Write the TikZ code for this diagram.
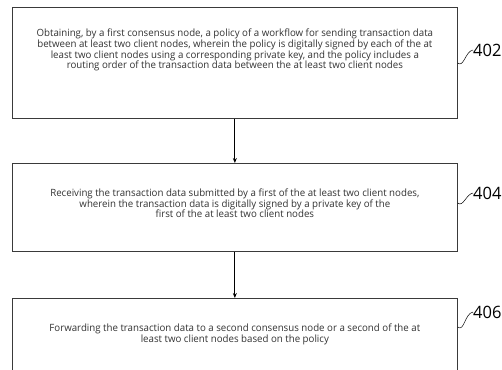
\documentclass[tikz,border=0pt]{standalone}
\usepackage{fontspec}
\setmainfont{Open Sans}[FakeStretch=0.97]
\usepackage{tikz}
\usepackage{xcolor}
\usetikzlibrary{arrows.meta, shadows}
\definecolor{fgdark}{HTML}{333333}
\definecolor{boxline}{HTML}{3A3A3A}
\tikzset{
  stepbox/.style={
    draw=boxline, line width=0.7pt, fill=white,
    drop shadow={shadow xshift=1.1pt, shadow yshift=-1.1pt, fill=black, opacity=1},
    minimum width=445pt, anchor=north west, inner sep=0pt,
    align=center, text=fgdark,
    font=\fontsize{10}{10.8}\selectfont,
  },
  reflabel/.style={font=\fontsize{17}{17}\selectfont, text=black, inner sep=0pt, anchor=west},
  leader/.style={line width=0.5pt, black},
  flow/.style={-{Stealth[length=5pt,width=4pt]}, line width=0.8pt, black},
}
% pushes the text block up inside its box
\newcommand{\lowpad}[1]{\rule[-#1]{0pt}{0pt}}

\begin{document}
\begin{tikzpicture}[x=1pt, y=-1pt]
\useasboundingbox[fill=white] (0,0) rectangle (502,369);

% ── steps ───────────────────────────────────────────────────────
\node[stepbox, minimum height=111pt] (s402) at (12,7)
  {Obtaining, by a first consensus node, a policy of a workflow for sending transaction data\\
   between at least two client nodes, wherein the policy is digitally signed by each of the at\\
   least two client nodes using a corresponding private key, and the policy includes a\\
   routing order of the transaction data between the at least two client nodes\lowpad{28pt}};
\node[stepbox, minimum height=88pt] (s404) at (12,163)
  {Receiving the transaction data submitted by a first of the at least two client nodes,\\
   wherein the transaction data is digitally signed by a private key of the\\
   first of the at least two client nodes\lowpad{8pt}};
\node[stepbox, minimum height=90pt] (s406) at (12,298)
  {Forwarding the transaction data to a second consensus node or a second of the at\\
   least two client nodes based on the policy\lowpad{20pt}};

% ── reference numerals ──────────────────────────────────────────
\node[reflabel] (l402) at (473,50) {402};
\node[reflabel] (l404) at (473,193) {404};
\node[reflabel] (l406) at (473,312) {406};

\draw[leader] ([yshift=-56pt]s402.north east) to[out=-40, in=190] (l402.west);
\draw[leader] ([yshift=-40pt]s404.north east) to[out=-40, in=190] (l404.west);
\draw[leader] ([yshift=-29pt]s406.north east) to[out=-40, in=190] (l406.west);

% ── flow ────────────────────────────────────────────────────────
\draw[flow] (s402.south) -- (s404.north);
\draw[flow] (s404.south) -- (s406.north);

\end{tikzpicture}
\end{document}
